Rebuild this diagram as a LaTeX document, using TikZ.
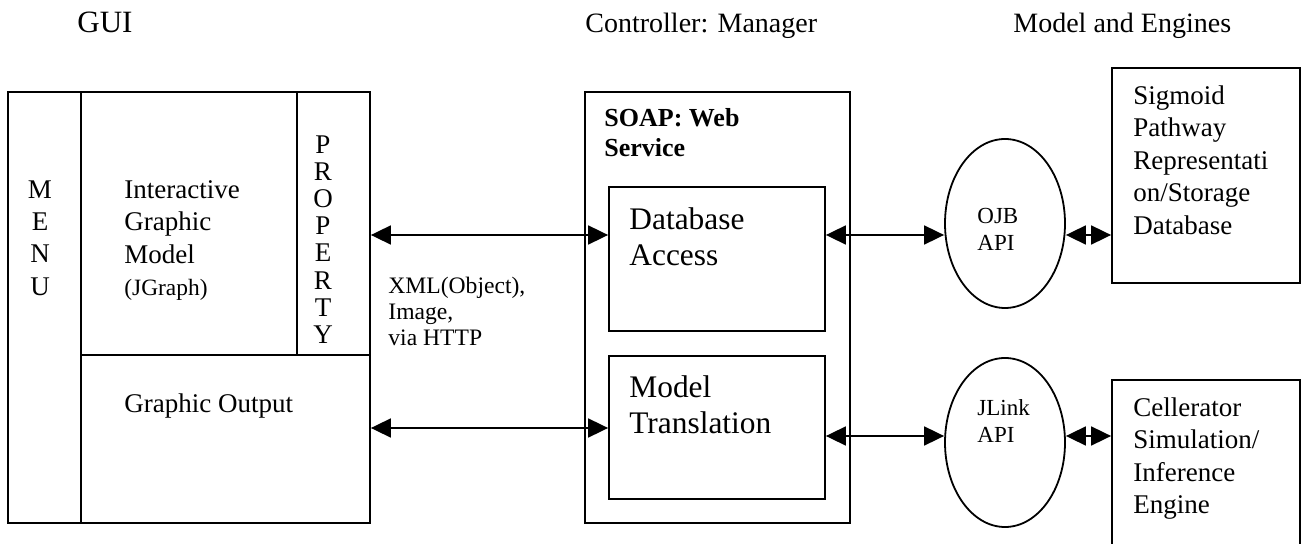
\documentclass[tikz,border=0pt]{standalone}
\usepackage{fontspec}
\setmainfont{Liberation Serif}
\usetikzlibrary{arrows.meta, fit, shapes.geometric}

\begin{document}
\begin{tikzpicture}[
  x=0.5pt, y=-0.5pt,
  % --- Box styles ---
  panel/.style={draw, line width=0.9pt, inner sep=0pt, rectangle},
  apibox/.style={draw, line width=0.9pt, ellipse, inner sep=0pt,
    minimum width=60pt, minimum height=84.5pt},
  % --- Text styles ---
  txt/.style={inner sep=0pt, anchor=north west, align=left},
  stack/.style={inner sep=0pt, anchor=north, align=center,
    font=\fontsize{13.5}{16.2}\selectfont},
  body/.style={txt, font=\fontsize{13.5}{16.25}\selectfont},
  big/.style={txt, font=\fontsize{15.7}{18}\selectfont},
  small/.style={txt, font=\fontsize{11.5}{13.5}\selectfont},
  heading/.style={txt, font=\fontsize{14}{16}\selectfont},
  % --- Arrows ---
  link/.style={line width=0.9pt,
    {Triangle[length=10pt,width=9.5pt]}-{Triangle[length=10pt,width=9.5pt]}},
]
\clip (0,0) rectangle (1311,544);

% ===================== HEADINGS =====================
\node[heading, font=\fontsize{15.5}{17}\selectfont] (h-gui) at (77,12) {GUI};
\node[heading] (h-ctrl) at (585,13) {Controller: Manager};
\node[heading] (h-model) at (1013,13) {Model and Engines};

% ===================== GUI =====================
\node[panel, fit={(8,92) (370,523)}] (gui) {};
\node[panel, fit={(8,92) (81,523)}] (menu) {};
\node[panel, fit={(81,92) (297,355)}] (igm) {};
\node[panel, fit={(297,92) (370,355)}] (prop) {};
\node[panel, fit={(81,355) (370,523)}] (gout) {};

\node[stack] (menu-txt) at (40,180) {M\\E\\N\\U};
\node[body] (igm-txt) at (124,180)
  {Interactive\\Graphic\\Model\\{\fontsize{11.7}{13}\selectfont (JGraph)}};
\node[stack, font=\fontsize{13.5}{13.6}\selectfont] (prop-txt) at (323,135)
  {P\\R\\O\\P\\E\\R\\T\\Y};
\node[body] (gout-txt) at (124,393) {Graphic Output};

% ===================== MANAGER =====================
\node[panel, fit={(585,92) (850,523)}] (mgr) {};
\node[panel, fit={(609,187) (825,331)}] (dba) {};
\node[panel, fit={(609,356) (825,499)}] (trans) {};

\node[txt, font=\fontsize{13}{15}\selectfont\bfseries] (soap-txt) at (604,108)
  {SOAP: Web\\Service};
\node[big] (dba-txt) at (629,207) {Database\\Access};
\node[big] (trans-txt) at (629,375) {Model\\Translation};

\node[txt, font=\fontsize{11.8}{13}\selectfont] (xml-txt) at (388,277)
  {XML(Object),\\Image,\\via HTTP};

% ===================== ENGINES =====================
\node[apibox] (ojb) at (1005,223.5) {};
\node[apibox] (jlink) at (1005,442.5) {};
\node[small] (ojb-txt) at (977,208) {OJB\\API};
\node[small] (jlink-txt) at (977,399) {JLink\\API};

\node[panel, fit={(1112,68) (1300,283)}] (sigdb) {};
\node[panel, fit={(1112,380) (1300,560)}] (cell) {};
\node[body] (sigdb-txt) at (1133,85)
  {Sigmoid\\Pathway\\Representati\\on/Storage\\Database};
\node[body] (cell-txt) at (1133,397)
  {Cellerator\\Simulation/\\Inference\\Engine};

% ===================== CONNECTORS =====================
\coordinate (rowA) at (0,235);
\coordinate (rowB) at (0,428);
\coordinate (rowC) at (0,436);

\draw[link] (gui.east |- rowA) -- (dba.west |- rowA);
\draw[link] (gui.east |- rowB) -- (trans.west |- rowB);

\draw[link] (dba.east |- rowA) -- (ojb.west |- rowA);
\draw[link] (trans.east |- rowC) -- (jlink.west |- rowC);

\draw[link] (ojb.east |- rowA) -- (sigdb.west |- rowA);
\draw[link] (jlink.east |- rowC) -- (cell.west |- rowC);

\end{tikzpicture}
\end{document}
